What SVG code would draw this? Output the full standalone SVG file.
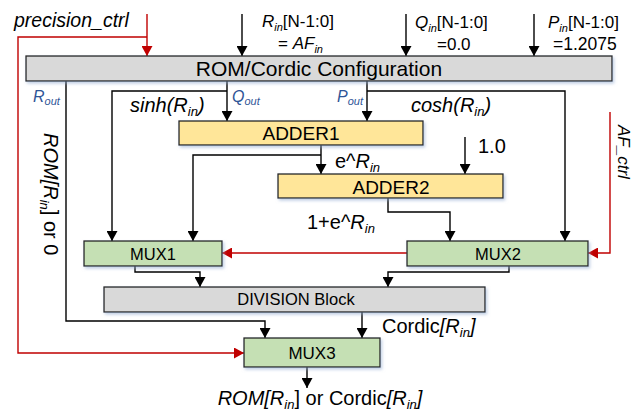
<svg xmlns="http://www.w3.org/2000/svg" width="640" height="411" viewBox="0 0 640 411">
<defs>
<filter id="sh" x="-5%" y="-20%" width="110%" height="160%">
<feDropShadow dx="1.5" dy="2" stdDeviation="1.5" flood-color="#8fa9d0" flood-opacity="0.55"/>
</filter>
<marker id="ab" markerUnits="userSpaceOnUse" markerWidth="11" markerHeight="11" refX="10" refY="5.5" orient="auto">
<path d="M0,0 L10,5.5 L0,11 z" fill="#000"/>
</marker>
<marker id="ar" markerUnits="userSpaceOnUse" markerWidth="11" markerHeight="11" refX="10" refY="5.5" orient="auto">
<path d="M0,0 L10,5.5 L0,11 z" fill="#c00000"/>
</marker>
</defs>
<style>
text{font-family:"Liberation Sans",Arial,sans-serif;fill:#000}
.box{stroke:#262626;stroke-width:1.3;filter:url(#sh)}
.gray{fill:#d9d9d9}
.yel{fill:#ffe699}
.grn{fill:#c5e0b4}
.k{fill:none;stroke:#000;stroke-width:1.4;marker-end:url(#ab)}
.r{fill:none;stroke:#c00000;stroke-width:1.4;marker-end:url(#ar)}
.i{font-style:italic}
.blue{fill:#2f5597;font-style:italic}
</style>

<g id="connectors">
<path class="r" d="M147,14 V56"/>
<path class="r" d="M147,37 H18 V353 H244"/>
<path class="k" d="M242,14 V56"/>
<path class="k" d="M406,14 V56"/>
<path class="k" d="M534,14 V56"/>
<path class="k" d="M66,81 V321 H265 V338"/>
<path class="k" d="M227,81 V121"/>
<path class="k" d="M227,91 H112 V241"/>
<path class="k" d="M367,81 V121"/>
<path class="k" d="M367,91 H565 V241"/>
<path class="k" d="M321,145 V174"/>
<path class="k" d="M321,155 H193 V241"/>
<path class="k" d="M465,137 V174"/>
<path class="k" d="M388,198 V212 H450 V241"/>
<path class="r" d="M610,112 V253 H588"/>
<path class="r" d="M407,253 H222"/>
<path class="k" d="M135,266 V272 H200 V287"/>
<path class="k" d="M509,266 V272 H388 V287"/>
<path class="k" d="M362,312 V338"/>
<path class="k" d="M307,367 V388"/>
</g>

<g id="rom">
<rect class="box gray" x="26" y="56" width="586" height="25"/>
<text x="319" y="76" font-size="21" text-anchor="middle">ROM/Cordic Configuration</text>
</g>
<g id="adder1">
<rect class="box yel" x="179" y="121" width="244" height="24"/>
<text x="301" y="140" font-size="19" text-anchor="middle">ADDER1</text>
</g>
<g id="adder2">
<rect class="box yel" x="278" y="174" width="225" height="24"/>
<text x="391" y="194" font-size="19" text-anchor="middle">ADDER2</text>
</g>
<g id="mux1">
<rect class="box grn" x="84" y="241" width="138" height="25"/>
<text x="153" y="260" font-size="16.5" text-anchor="middle">MUX1</text>
</g>
<g id="mux2">
<rect class="box grn" x="407" y="241" width="181" height="25"/>
<text x="498" y="260" font-size="16.5" text-anchor="middle">MUX2</text>
</g>
<g id="division">
<rect class="box gray" x="104" y="287" width="381" height="25"/>
<text x="296" y="305" font-size="16.5" text-anchor="middle">DIVISION Block</text>
</g>
<g id="mux3">
<rect class="box grn" x="244" y="338" width="136" height="29"/>
<text x="312" y="359" font-size="17" text-anchor="middle">MUX3</text>
</g>

<g id="labels">
<text x="14" y="27" font-size="19.5" class="i">precision_ctrl</text>
<text x="262" y="27" font-size="17"><tspan class="i">R</tspan><tspan class="i" font-size="11" dy="4">in</tspan><tspan dy="-4">[N-1:0]</tspan></text>
<text x="278" y="49" font-size="17">= <tspan class="i">AF</tspan><tspan class="i" font-size="11" dy="4">in</tspan></text>
<text x="415" y="28" font-size="17"><tspan class="i">Q</tspan><tspan class="i" font-size="11" dy="4">in</tspan><tspan dy="-4">[N-1:0]</tspan></text>
<text x="437" y="50" font-size="17">=0.0</text>
<text x="548" y="28" font-size="17"><tspan class="i">P</tspan><tspan class="i" font-size="11" dy="4">in</tspan><tspan dy="-4">[N-1:0]</tspan></text>
<text x="553" y="50" font-size="17.5">=1.2075</text>
<text x="33" y="102" font-size="16" class="blue">R<tspan font-size="11" dy="3">out</tspan></text>
<text x="232" y="102" font-size="16" class="blue">Q<tspan font-size="11" dy="3">out</tspan></text>
<text x="337" y="102" font-size="16" class="blue">P<tspan font-size="11" dy="3">out</tspan></text>
<text x="130" y="112" font-size="20" class="i">sinh(R<tspan font-size="13" dy="4">in</tspan><tspan dy="-4">)</tspan></text>
<text x="411" y="112" font-size="20" class="i">cosh(R<tspan font-size="13" dy="4">in</tspan><tspan dy="-4">)</tspan></text>
<text x="335" y="168" font-size="20">e^<tspan class="i">R</tspan><tspan class="i" font-size="13" dy="4">in</tspan></text>
<text x="307" y="229" font-size="20">1+e^<tspan class="i">R</tspan><tspan class="i" font-size="13" dy="4">in</tspan></text>
<text x="478" y="153" font-size="20">1.0</text>
<text x="382" y="333" font-size="20">Cordic<tspan class="i">[R</tspan><tspan class="i" font-size="13" dy="4">in</tspan><tspan class="i" dy="-4">]</tspan></text>
<text x="320" y="405" font-size="20" text-anchor="middle"><tspan class="i">ROM[R</tspan><tspan class="i" font-size="13" dy="4">in</tspan><tspan dy="-4">] or Cordic</tspan><tspan class="i">[R</tspan><tspan class="i" font-size="13" dy="4">in</tspan><tspan class="i" dy="-4">]</tspan></text>
<text transform="translate(44,133) rotate(90)" font-size="20"><tspan class="i">ROM[R</tspan><tspan class="i" font-size="13" dy="4">in</tspan><tspan dy="-4">] or 0</tspan></text>
<text transform="translate(618,125) rotate(90)" font-size="17" class="i">AF_ctrl</text>
</g>
</svg>
